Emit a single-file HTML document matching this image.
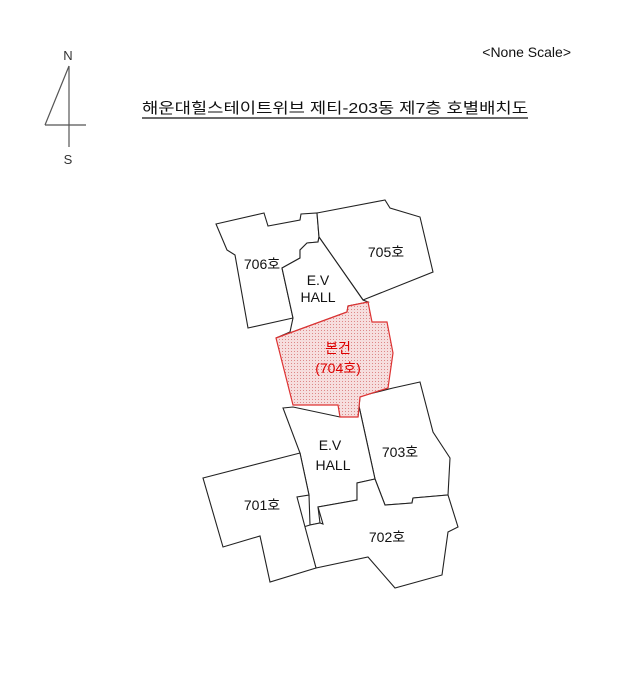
<!DOCTYPE html>
<html><head><meta charset="utf-8"><style>
html,body{margin:0;padding:0;background:#fff;}
svg{display:block;}
text{font-family:"Liberation Sans","Noto Sans CJK KR",sans-serif;}
</style></head><body>
<svg width="644" height="700" viewBox="0 0 644 700" xmlns="http://www.w3.org/2000/svg">
<defs>
<pattern id="dots" width="3" height="3" patternUnits="userSpaceOnUse">
<rect width="3" height="3" fill="#f6dede"/>
<rect width="1" height="1" fill="#d88"/>
</pattern>
</defs>
<text x="68" y="60" font-size="13" text-anchor="middle" fill="#333">N</text>
<text x="68" y="164" font-size="13" text-anchor="middle" fill="#333">S</text>
<g stroke="#555" stroke-width="1.2" fill="none">
<line x1="69" y1="66" x2="69" y2="147"/>
<line x1="69" y1="66" x2="45" y2="125"/>
<line x1="45" y1="125" x2="86" y2="125"/>
</g>
<text x="571" y="57" font-size="14" text-anchor="end" fill="#111">&lt;None Scale&gt;</text>
<text x="142" y="113" font-size="15" fill="#111" textLength="386" lengthAdjust="spacingAndGlyphs">해운대힐스테이트위브 제티-203동 제7층 호별배치도</text>
<line x1="142" y1="118" x2="528" y2="118" stroke="#111" stroke-width="1.2"/>
<g stroke="#222" stroke-width="1.1" fill="#fff" stroke-linejoin="miter">
<polygon points="216,224 264,213 268,226 300,220 301,214 317,213 319,237 318,242 307,243 300,250 300,258 282,268 293,318 248,328 235,255 227,250"/>
<polygon points="317,213 385,200 390,208 420,217 433,272 363,300 319,237"/>
<polygon points="282,268 300,258 300,250 307,243 318,242 319,237 363,300 368,302 348,306 347,312 276,338 290,332 293,318"/>
<polygon points="357,397 393,388 420,382 433,432 450,458 448,495 413,498 412,503 385,505 375,479"/>
<polygon points="283,408 293,407 340,417 358,417 360,397 357,397 375,479 357,483 357,500 318,507 320,523 310,525 309,495 300,453"/>
<polygon points="357,483 375,479 385,505 412,503 413,498 448,495 458,527 448,532 442,575 395,588 368,557 316,568 303,522 300,520 300,528 310,525 320,523 323,524 318,507 357,500"/>
<polygon points="203,478 300,453 309,495 297,497 316,568 270,582 260,536 223,547"/>
</g>
<polygon points="276,338 347,312 348,306 368,302 372,322 387,322 393,353 388,388 360,397 358,417 340,417 338,405 293,405" fill="url(#dots)" stroke="#d33" stroke-width="1.2"/>
<g font-size="14" text-anchor="middle" fill="#111">
<text x="262" y="269">706호</text>
<text x="386" y="257">705호</text>
<text x="318" y="285">E.V</text>
<text x="318" y="302">HALL</text>
<text x="330" y="450">E.V</text>
<text x="333" y="470">HALL</text>
<text x="400" y="457">703호</text>
<text x="262" y="510">701호</text>
<text x="387" y="542">702호</text>
<text x="338" y="353" fill="#d00">본건</text>
<text x="338" y="373" fill="#d00">(704호)</text>
</g>
</svg>
</body></html>
